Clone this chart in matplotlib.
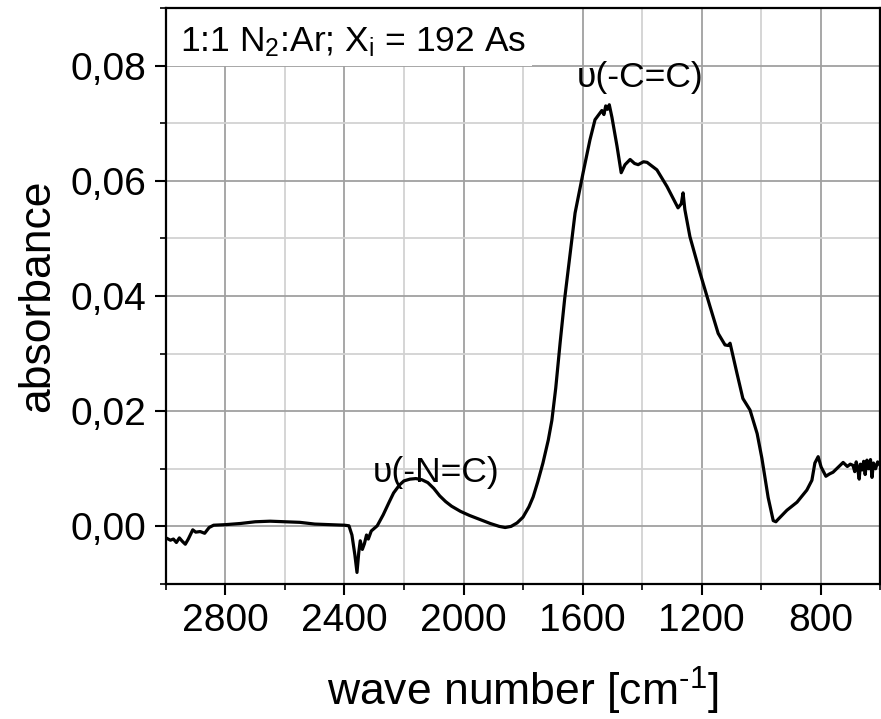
import matplotlib
matplotlib.use("Agg")
import matplotlib.pyplot as plt
from matplotlib.ticker import MultipleLocator, FuncFormatter
from matplotlib.patches import Rectangle

plt.rcParams['font.family'] = ['Liberation Sans', 'DejaVu Sans']
plt.rcParams['mathtext.fontset'] = 'custom'
plt.rcParams['mathtext.rm'] = 'Liberation Sans'

# spectrum (wave number in cm-1, absorbance)
wavenumber = [3000, 2985, 2975, 2965, 2955, 2945, 2935, 2925, 2910, 2900,
              2885, 2870, 2855, 2840, 2800, 2750, 2700, 2650, 2600, 2550,
              2500, 2450, 2400, 2385, 2375, 2365, 2358, 2352, 2347, 2340,
              2333, 2326, 2320, 2310, 2290, 2270, 2250, 2235, 2215, 2200,
              2180, 2160, 2140, 2120, 2100, 2080, 2060, 2040, 2010, 1980,
              1945, 1910, 1880, 1860, 1840, 1820, 1800, 1780, 1766, 1750,
              1733, 1715, 1703, 1690, 1675, 1660, 1649, 1625, 1598, 1575,
              1558, 1545, 1535, 1528, 1522, 1516, 1510, 1501, 1484, 1470,
              1457, 1440, 1425, 1413, 1395, 1383, 1350, 1316, 1279, 1268,
              1262, 1256, 1239, 1205, 1171, 1144, 1121, 1110, 1104, 1081,
              1061, 1037, 1013, 997, 976, 959, 950, 943, 913, 879,
              846, 829, 819, 808, 798, 782, 770, 758, 740, 724,
              710, 700, 691, 685, 680, 675, 670, 666, 660, 655,
              650, 644, 638, 632, 627, 622, 615, 608, 600]
absorbance = [-0.0020, -0.0024, -0.0022, -0.0028, -0.0020, -0.0026, -0.0031, -0.0022, -0.0006, -0.0010,
              -0.0009, -0.0012, -0.0002, 0.0002, 0.0003, 0.0005, 0.0008, 0.0009, 0.0008, 0.0007,
              0.0004, 0.0003, 0.0002, 0.0001, -0.0015, -0.0050, -0.0080, -0.0045, -0.0025, -0.0040,
              -0.0030, -0.0015, -0.0022, -0.0008, 0.0001, 0.0020, 0.0042, 0.0058, 0.0072, 0.0079,
              0.0082, 0.0083, 0.0081, 0.0076, 0.0066, 0.0053, 0.0043, 0.0035, 0.0026, 0.0019,
              0.0012, 0.0005, 0.0000, -0.0002, 0.0000, 0.0006, 0.0016, 0.0034, 0.0051, 0.0078,
              0.0110, 0.0150, 0.0184, 0.0240, 0.0320, 0.0395, 0.0442, 0.0544, 0.0614, 0.0671,
              0.0706, 0.0715, 0.0722, 0.0715, 0.0730, 0.0724, 0.0732, 0.0710, 0.0660, 0.0614,
              0.0628, 0.0637, 0.0630, 0.0628, 0.0633, 0.0632, 0.0619, 0.0590, 0.0553, 0.0560,
              0.0579, 0.0550, 0.0503, 0.0440, 0.0381, 0.0335, 0.0315, 0.0314, 0.0318, 0.0266,
              0.0222, 0.0202, 0.0161, 0.0118, 0.0050, 0.0010, 0.0008, 0.0012, 0.0028, 0.0042,
              0.0063, 0.0080, 0.0110, 0.0121, 0.0103, 0.0087, 0.0091, 0.0094, 0.0103, 0.0111,
              0.0104, 0.0108, 0.0106, 0.0095, 0.0112, 0.0100, 0.0082, 0.0108, 0.0098, 0.0113,
              0.0090, 0.0115, 0.0100, 0.0116, 0.0085, 0.0110, 0.0100, 0.0112, 0.0106]

# band labels
band_labels = ['\u03c5(-N=C)', '\u03c5(-C=C)']
band_pos = [(2092, 0.0077), (1407, 0.0763)]

info_text = r'1:1 $\mathregular{N_2}$:Ar; $\mathregular{X_i}$ = 192 As'

fig = plt.figure(figsize=(8.81, 7.19), dpi=100)
ax = fig.add_axes([0.1884, 0.1878, 0.8105, 0.8011])

ax.plot(wavenumber, absorbance, color='black', lw=2.3, zorder=3)

ax.set_xlim(3000, 600)
ax.set_ylim(-0.01, 0.09)

ax.xaxis.set_major_locator(MultipleLocator(400))
ax.xaxis.set_minor_locator(MultipleLocator(200))
ax.yaxis.set_major_locator(MultipleLocator(0.02))
ax.yaxis.set_minor_locator(MultipleLocator(0.01))
ax.yaxis.set_major_formatter(FuncFormatter(lambda v, p: f"{v:.2f}".replace('.', ',')))

ax.grid(which='major', color='#a0a0a0', lw=1.3, zorder=0)
ax.grid(which='minor', color='#d2d2d2', lw=1.3, zorder=0)
ax.set_axisbelow(True)

ax.tick_params(which='major', direction='out', length=8, width=1.5, labelsize=28, pad=6)
ax.tick_params(which='minor', direction='out', length=4.5, width=1.2)
ax.tick_params(top=False, right=False)
for s in ax.spines.values():
    s.set_linewidth(1.6)

ax.set_xlabel(r'wave number [cm$^{\text{-1}}$]', fontsize=32, labelpad=18)
ax.set_ylabel('absorbance', fontsize=32, labelpad=9)

# white box behind the sample info
ax.add_patch(Rectangle((0, 0.899), 0.5126, 0.101, transform=ax.transAxes,
                       facecolor='white', edgecolor='none', zorder=2))
ax.text(0.0196, 0.925, info_text, transform=ax.transAxes, fontsize=25.5,
        va='baseline', ha='left', zorder=4)

for lab, (x, y) in zip(band_labels, band_pos):
    ax.text(x, y, lab, fontsize=25.5, ha='center', va='baseline', zorder=4)

fig.savefig('out.png', dpi=100)
